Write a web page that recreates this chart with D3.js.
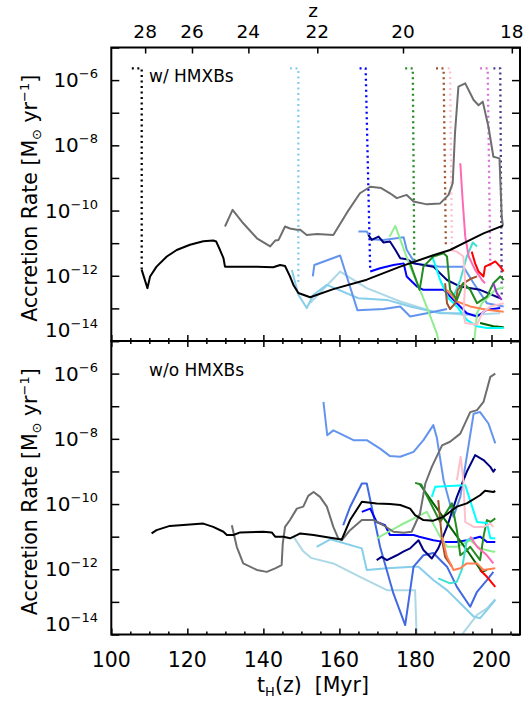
<!DOCTYPE html>
<html><head><meta charset="utf-8">
<script src="https://cdn.jsdelivr.net/npm/d3@7"></script>
<style>body{margin:0;background:#fff}</style>
</head><body>
<svg id="c" width="523" height="704"></svg>
<script>
// ---------- DATA (t in Myr, value = log10 accretion rate [Msun/yr]) ----------
const tTicksMajor = [100,120,140,160,180,200];
const tTicksMinor = d3.range(100,208,5);
const zTicks = [28,26,24,22,20,18];
const yLabelExps = [-6,-8,-10,-12,-14];
const yTickExps = d3.range(-14,-4);

// top panel: w/ HMXBs
const top_black = [[108.0,-11.82],[109.5,-12.38],[110.2,-12.02],[111.9,-11.72],[114.6,-11.41],[117.2,-11.21],[120.7,-11.05],[124.2,-10.94],[126.8,-10.92],[127.6,-10.95],[128.6,-11.21],[129.5,-11.46],[129.9,-11.72],[138.3,-11.72],[142.6,-11.74],[144.4,-11.67],[145.7,-11.7],[147.0,-12.02],[147.9,-12.28],[149.2,-12.53],[152.3,-12.66],[158.4,-12.41],[167.2,-12.12],[176.0,-11.72],[184.7,-11.37],[189.1,-11.21],[193.5,-10.95],[197.9,-10.70],[203.0,-10.46]];
const top_grey = [[129.9,-10.49],[131.9,-9.98],[134.7,-10.39],[138.3,-10.85],[141.8,-11.1],[143.1,-10.92],[144.0,-10.9],[145.7,-10.49],[147.0,-10.55],[148.8,-10.59],[149.7,-10.59],[151.4,-10.75],[154.1,-10.72],[158.4,-10.75],[161.9,-10.08],[165.4,-9.47],[168.1,-9.27],[171.0,-9.31],[173.3,-9.47],[175.1,-9.62],[177.7,-9.52],[179.5,-9.72],[183.0,-9.81],[186.5,-9.78],[188.7,-9.52],[189.8,-9.16],[190.4,-7.63],[191.3,-6.2],[193.1,-6.1],[195.3,-6.61],[196.6,-6.77],[197.7,-6.66],[199.2,-7.43],[200.5,-8.35],[202.1,-8.4],[202.7,-10.19],[203.0,-10.46]];
const top_skyblue = [[147.5,-11.82],[149.2,-12.58],[151.4,-12.99],[153.2,-12.58],[156.7,-12.28],[165.0,-12.69],[172.5,-12.74],[178.6,-12.94],[186.5,-13.15],[193.5,-13.15]];
const top_lightblue = [[152.3,-12.84],[160.2,-11.87],[167.2,-12.38],[176.0,-12.79],[184.7,-13.1],[193.5,-13.2],[202.3,-13.15]];
const top_cornflower1 = [[153.0,-12.02],[153.4,-11.67],[160.2,-11.38],[164.75,-13.06],[171.6,-13.02],[176.0,-12.94],[178.6,-13.25],[183.0,-13.15],[188.3,-13.02]];
const top_cornflower2 = [[165.0,-10.64],[167.2,-10.64],[168.3,-10.88],[171.6,-10.9],[176.9,-10.82],[177.7,-11.2],[179.9,-11.62],[186.5,-11.72],[192.6,-11.72],[195.3,-12.23],[198.8,-12.84],[203.2,-12.94]];
const top_navy = [[167.6,-10.75],[168.5,-10.9],[170.3,-10.8],[171.6,-10.98],[173.3,-10.95],[174.7,-11.2],[176.0,-11.46],[177.7,-11.49],[179.5,-11.62],[184.7,-11.72],[188.3,-12.13],[191.8,-12.33],[197.0,-12.43],[202.3,-12.69]];
const top_blue = [[168.1,-11.87],[170.7,-11.77],[174.2,-11.67],[176.9,-11.62],[177.7,-12.02],[180.4,-12.33],[182.1,-12.43],[187.4,-12.43],[190.9,-12.84],[193.5,-13.15],[196.2,-13.25],[198.8,-13.04],[202.3,-12.99]];
const top_lightgreen1 = [[173.2,-10.8],[174.7,-10.47],[178.6,-11.72],[182.1,-12.69],[185.6,-13.76],[186.5,-14.2]];
const top_lightgreen2 = [[195.3,-14.2],[196.2,-13.15],[197.5,-12.84],[201.0,-12.43],[203.2,-12.35]];
const top_green = [[178.6,-11.62],[181.1,-12.43],[182.1,-11.72],[184.7,-11.41],[187.4,-11.31],[188.3,-11.41],[189.1,-12.43],[190.9,-12.74],[192.6,-12.23],[194.4,-12.43],[196.2,-12.84],[198.8,-12.64],[200.5,-12.23],[202.3,-12.02],[203.2,-12.13]];
const top_darkgreen = [[197.0,-13.45],[200.5,-13.55],[203.2,-13.58]];
const top_cyan = [[184.3,-11.36],[186.5,-12.13],[188.7,-12.69],[190.9,-12.94],[193.5,-13.35],[196.2,-13.55],[198.8,-13.6],[203.2,-13.6]];
const top_turquoise = [[190.0,-12.64],[191.8,-12.13],[193.5,-11.41],[195.1,-10.98],[196.2,-11.1]];
const top_hotpink = [[191.8,-8.55],[192.4,-9.67],[193.1,-10.8],[194.0,-11.41],[195.7,-11.82],[197.5,-12.13],[198.3,-12.23]];
const top_pink = [[189.1,-11.21],[190.9,-11.26],[192.6,-11.41],[193.1,-12.23],[192.6,-13.15],[193.1,-13.45],[196.2,-13.5],[197.5,-13.15],[199.7,-12.94],[203.2,-12.84]];
const top_red = [[194.8,-11.26],[195.7,-11.62],[196.6,-11.87],[197.9,-12.02],[198.3,-11.72],[200.1,-11.62],[201.0,-11.56],[202.3,-11.72],[203.2,-11.87]];
const top_sienna = [[187.8,-12.23],[188.3,-12.84],[189.1,-13.02],[190.5,-12.84],[191.1,-12.43],[192.6,-12.23],[194.4,-12.1],[196.2,-12.02]];
const top_coral = [[188.3,-12.43],[190.9,-12.79],[194.4,-12.94],[198.8,-13.04],[203.2,-13.1]];
const top_purple = [[200.5,-12.23],[201.4,-12.53],[202.7,-12.74]];
// dotted tracks (top panel)
const dot_black = [[105.4,-5.64],[108.0,-5.64],[108.0,-11.82]];
const dot_skyblue = [[147.0,-5.64],[149.2,-5.64],[149.2,-12.23]];
const dot_blue = [[165.3,-5.64],[166.9,-5.64],[168.1,-11.82]];
const dot_green = [[177.3,-5.64],[179.3,-5.64],[179.7,-11.62]];
const dot_sienna = [[185.4,-5.64],[187.4,-5.64],[188.0,-11.1]];
const dot_pink = [[188.5,-5.64],[189.1,-5.64],[189.6,-11.21]];
const dot_orchid = [[197.0,-5.64],[199.0,-5.64],[199.7,-11.72]];
const dot_slate = [[200.5,-5.64],[202.3,-5.64],[202.7,-12.64]];

// bottom panel: w/o HMXBs
const bot_black = [[110.6,-10.90],[111.9,-10.80],[115.4,-10.67],[120.7,-10.63],[124.2,-10.60],[126.8,-10.70],[129.5,-10.85],[130.4,-10.95],[132.1,-10.95],[133.9,-10.87],[140.0,-10.85],[142.2,-10.87],[143.1,-11.0],[145.3,-11.0],[147.0,-11.05],[148.8,-10.95],[149.7,-10.9],[153.2,-10.95],[158.4,-11.05],[160.6,-11.09],[162.8,-10.49],[165.9,-9.93],[169.8,-9.98],[173.3,-10.0],[176.0,-10.03],[178.6,-10.14],[179.9,-10.34],[182.1,-10.49],[184.7,-10.51],[187.4,-10.39],[190.9,-10.08],[193.5,-9.98],[197.0,-9.73],[198.3,-9.59],[200.5,-9.63],[201.0,-9.6]];
const bot_grey = [[131.7,-10.65],[133.0,-11.31],[134.7,-11.82],[138.3,-12.02],[140.9,-12.08],[143.1,-11.97],[144.8,-11.87],[145.1,-11.21],[145.7,-10.70],[147.0,-10.49],[148.8,-10.14],[150.5,-10.08],[151.8,-9.75],[153.2,-9.63],[154.9,-9.78],[156.7,-10.08],[158.4,-10.70],[159.7,-11.05],[160.6,-11.11],[162.8,-10.80],[165.9,-10.49],[169.0,-10.49],[171.6,-10.65],[174.2,-10.85],[176.9,-10.88],[179.0,-10.85],[181.2,-10.29],[182.6,-9.37],[184.3,-8.86],[187.0,-8.20],[189.1,-8.09],[191.8,-7.84],[194.4,-7.18],[196.2,-7.12],[197.9,-6.87],[199.7,-6.10],[201.0,-6.0]];
const bot_cornflower = [[155.8,-6.87],[156.8,-7.89],[158.4,-7.74],[160.2,-7.84],[163.7,-8.04],[167.2,-8.04],[170.7,-8.3],[173.3,-8.53],[176.0,-8.55],[179.5,-8.40],[182.1,-8.04],[184.7,-7.58],[185.6,-7.95],[187.4,-9.27],[190.0,-10.39],[191.8,-9.78],[195.3,-7.23],[197.0,-7.18],[199.2,-7.53],[201.0,-8.14]];
const bot_royal = [[161.0,-10.65],[162.8,-10.09],[165.9,-9.37],[167.2,-9.37],[170.7,-11.31],[174.2,-12.74],[177.3,-13.71],[179.5,-11.92],[182.1,-11.57],[184.7,-11.5],[188.3,-11.92],[190.9,-12.54],[194.4,-13.15],[196.2,-12.69],[198.8,-12.33],[200.5,-12.08]];
const bot_blue = [[165.9,-10.24],[168.1,-10.14],[169.8,-10.55],[172.0,-10.65],[173.3,-10.95],[179.5,-10.95],[181.0,-11.0],[184.7,-11.11],[187.4,-11.16],[190.9,-11.16],[193.5,-11.11],[197.0,-11.0],[198.8,-11.16],[201.0,-11.16]];
const bot_navy = [[169.8,-11.72],[171.1,-11.62],[172.5,-11.72],[175.1,-11.57],[176.8,-11.46],[178.6,-11.36],[180.8,-11.11],[182.1,-11.41],[184.3,-11.67],[186.0,-11.36],[188.3,-10.70],[190.9,-9.78],[193.5,-9.01],[195.7,-8.50],[197.9,-8.65],[199.7,-8.86],[200.5,-9.01],[201.0,-8.92]];
const bot_lightgreen = [[169.8,-11.05],[176.0,-10.65],[183.0,-10.24],[186.5,-11.0],[188.3,-11.31],[190.9,-11.31],[194.4,-11.11],[197.0,-11.36],[200.5,-11.46],[201.0,-11.45]];
const bot_green = [[179.9,-9.35],[181.5,-9.4],[186.5,-10.55],[189.6,-9.98],[190.9,-10.8],[191.8,-11.57],[193.5,-11.42],[194.4,-11.31],[197.0,-11.72],[197.9,-11.0],[198.8,-10.49],[199.7,-10.55],[201.0,-10.44]];
const bot_darkgreen = [[181.2,-9.4],[184.7,-9.98],[189.1,-10.70],[193.5,-11.41],[197.5,-12.08],[198.8,-12.02]];
const bot_cyan = [[184.3,-9.78],[185.2,-9.47],[189.1,-9.45],[193.1,-9.42],[196.2,-10.55],[198.8,-10.58],[199.7,-11.05],[201.0,-11.05]];
const bot_pink = [[190.9,-9.27],[191.9,-8.55],[192.6,-9.27],[193.1,-10.55],[195.3,-10.70],[197.9,-10.70],[199.7,-10.6],[200.5,-10.7]];
const bot_sienna = [[186.0,-9.88],[187.0,-11.1],[187.8,-11.62],[189.6,-11.92]];
const bot_coral = [[187.0,-11.0],[188.3,-11.62],[190.0,-12.02],[191.8,-11.97],[193.5,-11.82],[196.2,-11.82],[197.9,-12.02],[201.0,-11.97]];
const bot_turquoise = [[186.0,-12.28],[189.1,-12.43],[190.9,-12.38],[192.2,-12.02],[193.5,-11.11],[195.3,-11.05]];
const bot_hotpink = [[194.4,-11.0],[196.2,-11.31],[198.8,-11.57],[200.5,-11.82]];
const bot_red = [[197.0,-12.02],[198.8,-12.23],[201.0,-12.54]];
const bot_lightblue = [[147.9,-11.0],[150.5,-11.45],[152.5,-11.65],[158.4,-11.82],[165.4,-12.23],[172.5,-12.64],[179.9,-12.64],[180.4,-14.3]];
const bot_lightblue2 = [[191.6,-14.1],[196.2,-13.4],[198.8,-13.2],[201.0,-12.92]];
const bot_skyblue = [[154.0,-11.31],[157.6,-11.08],[165.9,-11.36],[167.2,-12.02],[172.5,-11.97],[179.5,-11.92],[180.8,-11.92],[184.7,-12.33],[188.3,-12.64],[191.8,-13.04],[195.3,-13.45],[197.0,-13.5],[198.8,-13.25],[201.0,-12.94]];

// ---------- styles ----------
const C = {black:"#000000", grey:"#6e6e6e", skyblue:"#87ceeb", lightblue:"#add8e6", cornflower:"#6495ed", royal:"#4169e1", blue:"#0000ff", navy:"#000080", lightgreen:"#90ee90", green:"#228b22", darkgreen:"#006400", cyan:"#00ffff", turquoise:"#40e0d0", hotpink:"#ff69b4", pink:"#ffc0cb", red:"#ff0000", sienna:"#a0522d", coral:"#ff7f50", purple:"#9932cc", orchid:"#da70d6", slate:"#483d8b"};

const topSeries = [
  [dot_black,C.black,1],[dot_skyblue,C.skyblue,1],[dot_blue,C.blue,1],[dot_green,C.green,1],[dot_sienna,C.sienna,1],[dot_pink,C.pink,1],[dot_orchid,C.orchid,1],[dot_slate,C.slate,1],
  [top_lightblue,C.lightblue],[top_skyblue,C.skyblue],[top_cornflower1,C.cornflower],[top_cornflower2,C.cornflower],[top_navy,C.navy],[top_blue,C.blue],
  [top_lightgreen1,C.lightgreen],[top_lightgreen2,C.lightgreen],[top_darkgreen,C.darkgreen],[top_cyan,C.cyan],[top_turquoise,C.turquoise],[top_coral,C.coral],[top_sienna,C.sienna],
  [top_green,C.green],[top_pink,C.pink],[top_hotpink,C.hotpink],[top_red,C.red],[top_purple,C.purple],
  [top_grey,C.grey],[top_black,C.black]
];
const botSeries = [
  [bot_lightblue,C.lightblue],[bot_lightblue2,C.lightblue],[bot_skyblue,C.skyblue],[bot_cornflower,C.cornflower],[bot_royal,C.royal],[bot_blue,C.blue],[bot_navy,C.navy],
  [bot_lightgreen,C.lightgreen],[bot_darkgreen,C.darkgreen],[bot_green,C.green],[bot_cyan,C.cyan],[bot_turquoise,C.turquoise],[bot_sienna,C.sienna],[bot_coral,C.coral],
  [bot_pink,C.pink],[bot_hotpink,C.hotpink],[bot_red,C.red],[bot_grey,C.grey],[bot_black,C.black]
];

// ---------- layout ----------
const L=111.3, R=520, T=47.5, M=341, B=634.5;
const FONT = "DejaVu Sans, Liberation Sans, sans-serif";
const x = d3.scaleLinear().domain([100,207.5]).range([L,R]);
const yTop = d3.scaleLog().domain([1e-14,1e-5]).range([M,T]);
const yBot = d3.scaleLog().domain([1e-14,1e-5]).range([B,M]);
const tOfZ = z => 17007*Math.pow(1+z,-1.5);

const svg = d3.select("#c").style("font-family",FONT);
const defs = svg.append("defs");
defs.append("clipPath").attr("id","cpTop").append("rect").attr("x",L).attr("y",T).attr("width",R-L).attr("height",M-T);
defs.append("clipPath").attr("id","cpBot").append("rect").attr("x",L).attr("y",M).attr("width",R-L).attr("height",B-M);

function drawPanel(series, y, clip){
  const g = svg.append("g").attr("clip-path",`url(#${clip})`);
  const line = d3.line().x(d=>x(d[0])).y(d=>y(Math.pow(10,d[1])));
  series.forEach(s=>{
    g.append("path").attr("d",line(s[0])).attr("fill","none").attr("stroke",s[1])
      .attr("stroke-width", s[2]?2.3:2).attr("stroke-linejoin","round")
      .attr("stroke-dasharray", s[2]?"2,3.5":null);
  });
}
drawPanel(topSeries,yTop,"cpTop");
drawPanel(botSeries,yBot,"cpBot");

// ---------- axes ----------
function tAxis(gen, ypos, size, vals){
  const g = svg.append("g").attr("transform",`translate(0,${ypos})`)
    .call(gen(x).tickValues(vals).tickSize(size).tickFormat(""));
  g.select(".domain").remove();
  g.selectAll("line").attr("stroke","#000").attr("stroke-width",1.5);
}
const minorOnly = tTicksMinor.filter(v=>tTicksMajor.indexOf(v)<0);
tAxis(d3.axisBottom, M, -6, tTicksMajor); tAxis(d3.axisBottom, M, -3, minorOnly);
tAxis(d3.axisTop, M, -6, tTicksMajor); tAxis(d3.axisTop, M, -3, minorOnly);
tAxis(d3.axisBottom, B, -6, tTicksMajor); tAxis(d3.axisBottom, B, -3, minorOnly);
{
  const g = svg.append("g").attr("transform",`translate(0,${T})`)
    .call(d3.axisTop(x).tickValues(zTicks.map(tOfZ)).tickSize(-6).tickFormat(""));
  g.select(".domain").remove();
  g.selectAll("line").attr("stroke","#000").attr("stroke-width",1.5);
  zTicks.forEach(z=>{
    svg.append("text").attr("x",x(tOfZ(z))).attr("y",38).attr("text-anchor","middle")
      .attr("font-size",18.5).text(z);
  });
  svg.append("text").attr("x",313).attr("y",17).attr("text-anchor","middle").attr("font-size",18.5).text("z");
}
[[yTop],[yBot]].forEach(([y])=>{
  const vals = yTickExps.map(e=>Math.pow(10,e));
  const gl = svg.append("g").attr("transform",`translate(${L},0)`).call(d3.axisLeft(y).tickValues(vals).tickSize(-8).tickFormat(""));
  gl.select(".domain").remove(); gl.selectAll("line").attr("stroke","#000").attr("stroke-width",1.5);
  const gr = svg.append("g").attr("transform",`translate(${R},0)`).call(d3.axisRight(y).tickValues(vals).tickSize(-8).tickFormat(""));
  gr.select(".domain").remove(); gr.selectAll("line").attr("stroke","#000").attr("stroke-width",1.5);
  yLabelExps.forEach(e=>{
    const yy = y(Math.pow(10,e)) + (e===-14 ? -4 : 7);
    const t = svg.append("text").attr("x",98).attr("y",yy).attr("text-anchor","end").attr("font-size",20);
    t.append("tspan").text("10");
    t.append("tspan").attr("dy",-9).attr("font-size",13).text("\u2212"+(-e));
  });
});
svg.append("rect").attr("x",L).attr("y",T).attr("width",R-L).attr("height",M-T).attr("fill","none").attr("stroke","#000").attr("stroke-width",2);
svg.append("rect").attr("x",L).attr("y",M).attr("width",R-L).attr("height",B-M).attr("fill","none").attr("stroke","#000").attr("stroke-width",2);

tTicksMajor.forEach(v=>{
  svg.append("text").attr("x",x(v)).attr("y",667).attr("text-anchor","middle").attr("font-size",20.5).text(v);
});
{
  const t = svg.append("text").attr("x",313).attr("y",692).attr("text-anchor","middle").attr("font-size",20.5);
  t.append("tspan").text("t");
  t.append("tspan").attr("dy",4).attr("font-size",13).text("H");
  t.append("tspan").attr("dy",-4).text("(z)\u00a0\u00a0[Myr]");
}
[(T+M)/2+4,(M+B)/2+4].forEach(cy=>{
  const t = svg.append("text").attr("transform",`translate(37,${cy}) rotate(-90)`).attr("text-anchor","middle").attr("font-size",20.5);
  t.append("tspan").text("Accretion Rate [M");
  t.append("tspan").attr("dy",4).attr("font-size",13).text("\u2299");
  t.append("tspan").attr("dy",-4).text(" yr");
  t.append("tspan").attr("dy",-8).attr("font-size",13).text("\u22121");
  t.append("tspan").attr("dy",8).text("]");
});
svg.append("text").attr("x",149).attr("y",82).attr("font-size",17).text("w/ HMXBs");
svg.append("text").attr("x",149).attr("y",376).attr("font-size",17).text("w/o HMXBs");
</script>
</body></html>
